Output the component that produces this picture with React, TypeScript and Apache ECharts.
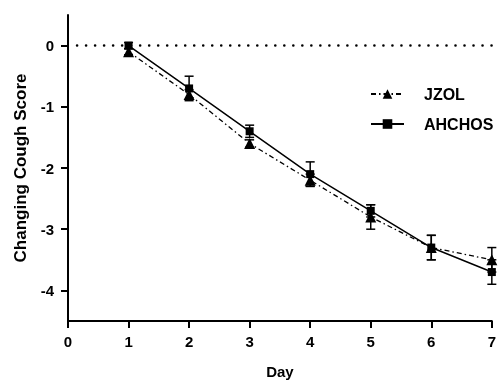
import React, { useEffect, useRef } from "react";
import * as echarts from "echarts";

const days = [1, 2, 3, 4, 5, 6, 7];
const jzolMean = [-0.1, -0.8, -1.6, -2.2, -2.8, -3.3, -3.5];
const jzolErr = [0.05, 0.08, 0.06, 0.1, 0.2, 0.2, 0.2];
const ahchosMean = [0, -0.7, -1.4, -2.1, -2.7, -3.3, -3.7];
const ahchosErr = [0.05, 0.2, 0.1, 0.2, 0.1, 0.2, 0.2];
const xTicks = [0, 1, 2, 3, 4, 5, 6, 7];
const yTicks = [0, -1, -2, -3, -4];

const FONT = "'Liberation Sans', Arial, sans-serif";

function errSeries(name: string, mean: number[], err: number[]) {
  return {
    type: "custom",
    name: name + "_err",
    silent: true,
    z: 3,
    data: days.map((d, i) => [d, mean[i] - err[i], mean[i] + err[i]]),
    renderItem: (params: any, api: any) => {
      const x = api.value(0);
      const lo = api.coord([x, api.value(1)]);
      const hi = api.coord([x, api.value(2)]);
      const cw = 4.5;
      const style = { stroke: "#000", lineWidth: 1.5, fill: "none" };
      return {
        type: "group",
        children: [
          { type: "line", shape: { x1: lo[0], y1: lo[1], x2: hi[0], y2: hi[1] }, style },
          { type: "line", shape: { x1: lo[0] - cw, y1: lo[1], x2: lo[0] + cw, y2: lo[1] }, style },
          { type: "line", shape: { x1: hi[0] - cw, y1: hi[1], x2: hi[0] + cw, y2: hi[1] }, style },
        ],
      };
    },
  };
}

export default function App() {
  const ref = useRef<HTMLDivElement>(null);
  useEffect(() => {
    if (!ref.current) return;
    const chart = echarts.init(ref.current, undefined, { renderer: "svg" });
    const axisLabel = { fontFamily: FONT, fontWeight: "bold", fontSize: 15, color: "#000" };
    chart.setOption({
      animation: false,
      grid: { left: 68, right: 4, top: 15, bottom: 61, containLabel: false },
      legend: {
        orient: "vertical",
        left: 370,
        top: 86,
        padding: 0,
        itemWidth: 33,
        itemHeight: 12,
        itemGap: 14,
        data: ["JZOL", "AHCHOS"],
        textStyle: { fontFamily: FONT, fontWeight: "bold", fontSize: 16, color: "#000", padding: [0, 0, 0, 15] },
      },
      xAxis: {
        type: "value",
        min: 0,
        max: 7,
        interval: 1,
        name: "Day",
        nameLocation: "middle",
        nameGap: 43,
        nameTextStyle: { fontFamily: FONT, fontWeight: "bold", fontSize: 15, color: "#000" },
        axisLine: { onZero: false, lineStyle: { color: "#000", width: 2 } },
        axisTick: { show: true, length: 7, lineStyle: { color: "#000", width: 2 } },
        axisLabel: {
          ...axisLabel,
          margin: 13,
          formatter: (v: number) => (xTicks.includes(v) ? String(v) : ""),
        },
        splitLine: { show: false },
      },
      yAxis: {
        type: "value",
        min: -4.5,
        max: 0.5,
        interval: 0.5,
        name: "Changing Cough Score",
        nameLocation: "middle",
        nameGap: 39,
        nameTextStyle: { fontFamily: FONT, fontWeight: "bold", fontSize: 17, color: "#000" },
        axisLine: { onZero: false, lineStyle: { color: "#000", width: 2 } },
        axisTick: {
          show: true,
          length: 7,
          lineStyle: { color: "#000", width: 2 },
          customValues: yTicks,
        },
        axisLabel: {
          ...axisLabel,
          margin: 14,
          customValues: yTicks,
          formatter: (v: number) => String(v),
        },
        splitLine: { show: false },
      },
      series: [
        {
          name: "JZOL",
          type: "line",
          data: days.map((d, i) => [d, jzolMean[i]]),
          symbol: "triangle",
          symbolSize: 11,
          itemStyle: { color: "#000" },
          lineStyle: { color: "#000", width: 1.3, type: [5, 3, 1.5, 3] },
          z: 4,
          markLine: {
            silent: true,
            symbol: "none",
            label: { show: false },
            lineStyle: { color: "#000", width: 2.6, type: [0.01, 9], dashOffset: 0, cap: "round" },
            data: [[{ coord: [0.15, 0] }, { coord: [7, 0] }]],
          },
        },
        {
          name: "AHCHOS",
          type: "line",
          data: days.map((d, i) => [d, ahchosMean[i]]),
          symbol: "rect",
          symbolSize: 8,
          itemStyle: { color: "#000" },
          lineStyle: { color: "#000", width: 1.5, type: "solid" },
          z: 5,
        },
        errSeries("JZOL", jzolMean, jzolErr),
        errSeries("AHCHOS", ahchosMean, ahchosErr),
      ],
    });
    return () => chart.dispose();
  }, []);
  return <div ref={ref} style={{ width: 499, height: 384, position: "fixed", left: 0, top: 0 }} />;
}
